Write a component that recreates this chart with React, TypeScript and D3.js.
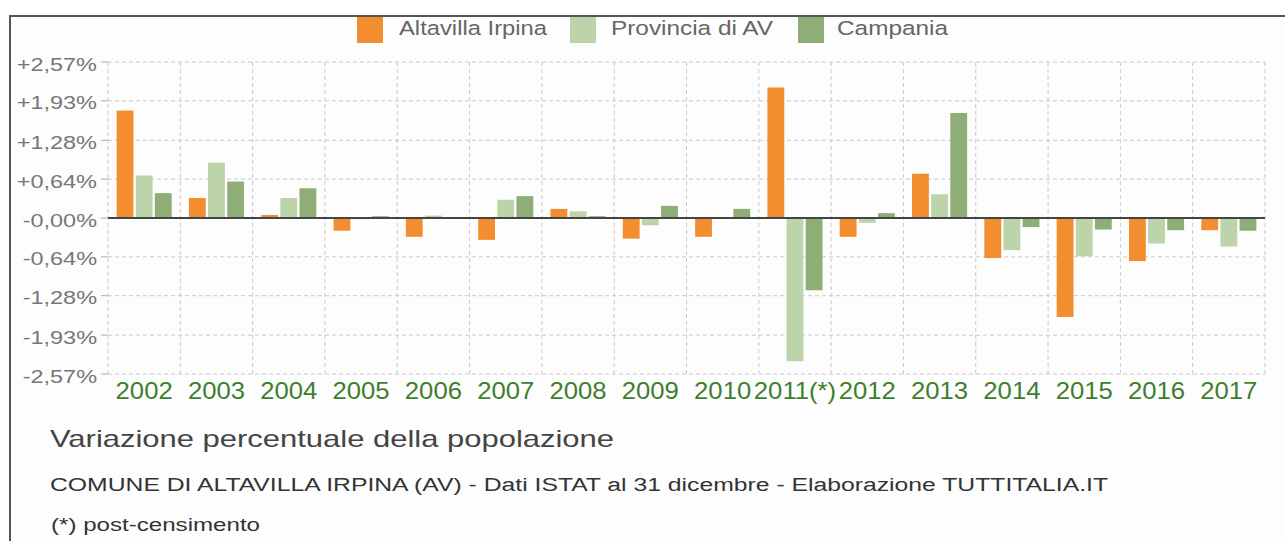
import React from "react";
import * as d3 from "d3";

const years = ["2002", "2003", "2004", "2005", "2006", "2007", "2008", "2009", "2010", "2011(*)", "2012", "2013", "2014", "2015", "2016", "2017"];
const altavilla = [1.77, 0.33, 0.05, -0.21, -0.31, -0.36, 0.15, -0.34, -0.31, 2.15, -0.31, 0.73, -0.66, -1.63, -0.71, -0.2];
const provincia = [0.7, 0.91, 0.33, -0.02, 0.04, 0.3, 0.11, -0.12, 0.01, -2.36, -0.08, 0.39, -0.53, -0.63, -0.42, -0.47];
const campania = [0.41, 0.6, 0.49, 0.03, 0.0, 0.36, 0.03, 0.2, 0.15, -1.19, 0.08, 1.73, -0.15, -0.19, -0.2, -0.21];
const seriesNames = ["Altavilla Irpina", "Provincia di AV", "Campania"];
const seriesColors = ["#f28e2f", "#bdd3a9", "#8fae77"];
const yTicks = [2.57, 1.93, 1.28, 0.64, 0, -0.64, -1.28, -1.93, -2.57];
const yTickLabels = ["+2,57%", "+1,93%", "+1,28%", "+0,64%", "-0,00%", "-0,64%", "-1,28%", "-1,93%", "-2,57%"];
const title = "Variazione percentuale della popolazione";
const subtitle = "COMUNE DI ALTAVILLA IRPINA (AV) - Dati ISTAT al 31 dicembre - Elaborazione TUTTITALIA.IT";
const footnote = "(*) post-censimento";

const W = 1285;
const H = 541;
const FONT = "'Liberation Sans', Arial, Helvetica, sans-serif";

export default function App() {
  const left = 108, right = 1265, top = 62, bottom = 374;
  const x = d3.scaleBand<string>().domain(years).range([left, right]);
  const xi = d3.scaleBand<string>().domain(seriesNames).range([0, x.bandwidth()]).paddingInner(0.12).paddingOuter(0.45);
  const y = d3.scaleLinear().domain([-2.57, 2.57]).range([bottom, top]);
  const data = [altavilla, provincia, campania];
  const gridColor = "#c9c9c9";
  const vLines = years.map((yr) => x(yr)!).concat([right]);

  const legendX = [357, 570, 798];
  const legendTextX = [399, 611, 837];
  const legendTextW = [148, 162, 111];

  return (
    <svg width={W} height={H} style={{ position: "absolute", left: 0, top: 0 }} fontFamily={FONT}>
      <rect x={10} y={16} width={1300} height={600} fill="#fdfdfd" stroke="#555" strokeWidth={2} />
      {/* grid */}
      {yTicks.map((t, i) => (
        <g key={"h" + i}>
          <line x1={left} x2={right} y1={y(t)} y2={y(t)} stroke={gridColor} strokeDasharray="4,3" strokeWidth={1} />
          <line x1={101} x2={left} y1={y(t)} y2={y(t)} stroke="#aaa" strokeWidth={1} />
        </g>
      ))}
      {vLines.map((vx, i) => (
        <line key={"v" + i} x1={vx} x2={vx} y1={top} y2={bottom} stroke={gridColor} strokeDasharray="4,3" strokeWidth={1} />
      ))}
      {/* bars */}
      {years.map((yr, i) => (
        <g key={yr} transform={`translate(${x(yr)},0)`}>
          {data.map((arr, s) => {
            const v = arr[i];
            const y0 = y(0);
            const yv = y(v);
            return (
              <rect
                key={s}
                x={xi(seriesNames[s])}
                width={xi.bandwidth()}
                y={Math.min(y0, yv)}
                height={Math.abs(yv - y0)}
                fill={seriesColors[s]}
              />
            );
          })}
        </g>
      ))}
      {/* zero line */}
      <line x1={left} x2={right} y1={y(0)} y2={y(0)} stroke="#444" strokeWidth={2} />
      {/* y labels */}
      {yTicks.map((t, i) => (
        <text
          key={"yl" + i}
          transform={`translate(97,${y(t) + 8.5}) scale(1.27,1)`}
          textAnchor="end"
          fontSize={18.5}
          fill="#777"
        >
          {yTickLabels[i]}
        </text>
      ))}
      {/* x labels */}
      {years.map((yr) => (
        <text
          key={"xl" + yr}
          transform={`translate(${x(yr)! + x.bandwidth() / 2},399) scale(1.07,1)`}
          textAnchor="middle"
          fontSize={24}
          fill="#3d7f2e"
        >
          {yr}
        </text>
      ))}
      {/* legend */}
      {seriesNames.map((n, i) => (
        <g key={"lg" + i}>
          <rect x={legendX[i]} y={17} width={26} height={26} fill={seriesColors[i]} />
          <text x={legendTextX[i]} y={35} fontSize={20.5} fill="#666" textLength={legendTextW[i]} lengthAdjust="spacingAndGlyphs">
            {n}
          </text>
        </g>
      ))}
      {/* titles */}
      <text x={50} y={447} fontSize={24} fill="#444" textLength={564} lengthAdjust="spacingAndGlyphs">
        {title}
      </text>
      <text x={50} y={491} fontSize={18} fill="#333" textLength={1058} lengthAdjust="spacingAndGlyphs">
        {subtitle}
      </text>
      <text x={51} y={531} fontSize={18} fill="#333" textLength={209} lengthAdjust="spacingAndGlyphs">
        {footnote}
      </text>
    </svg>
  );
}
